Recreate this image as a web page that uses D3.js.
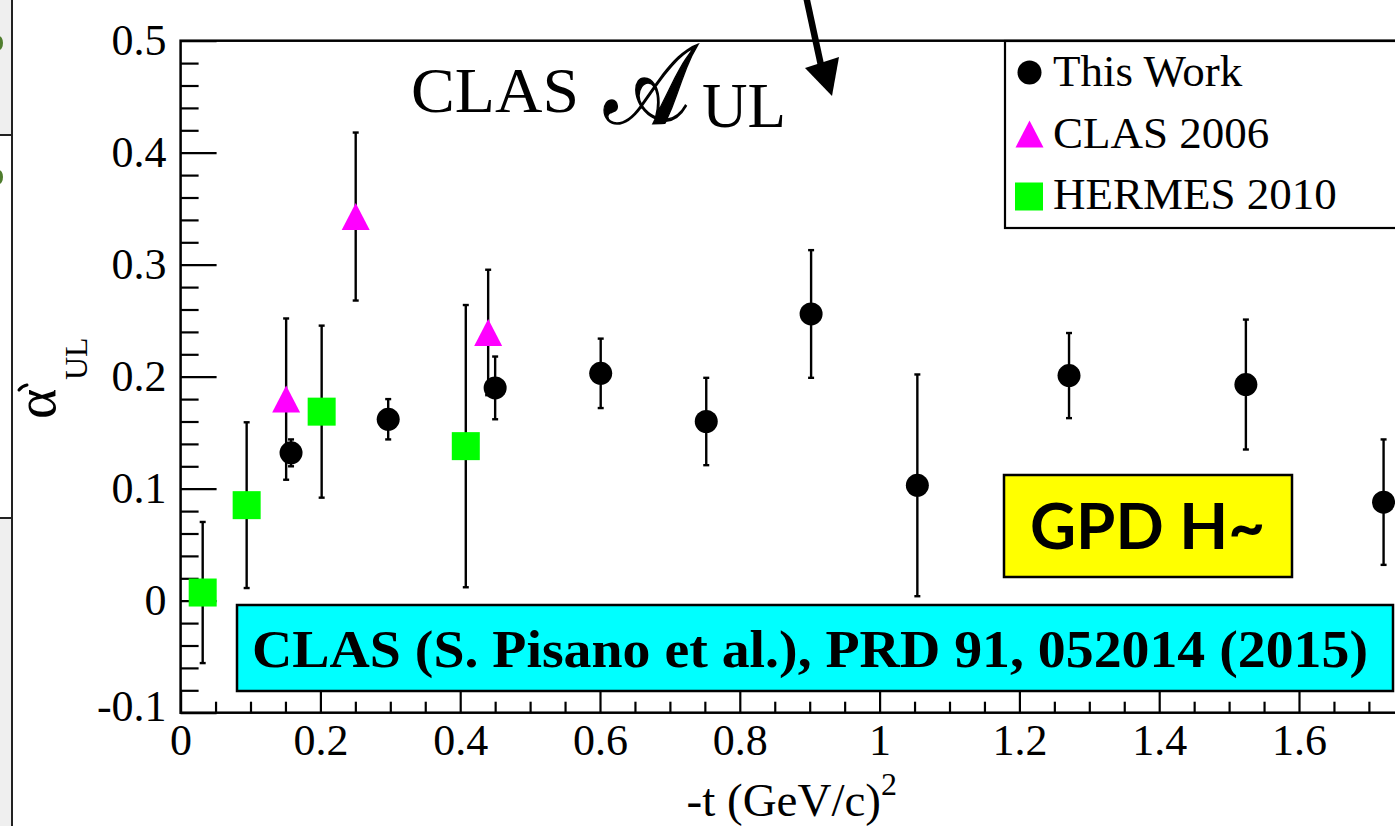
<!DOCTYPE html>
<html>
<head>
<meta charset="utf-8">
<script src="https://cdn.jsdelivr.net/npm/d3@7"></script>
<style>
  html, body { margin: 0; padding: 0; background: #ffffff; }
  svg { display: block; }
</style>
</head>
<body>
<svg id="chart" width="1395" height="826"></svg>
<script>
// ---- data: longitudinal target-spin asymmetry vs -t ----
const thisWorkT   = [0.158, 0.297, 0.450, 0.601, 0.752, 0.902, 1.054, 1.271, 1.524, 1.721];
const thisWorkA   = [0.132, 0.162, 0.190, 0.203, 0.160, 0.256, 0.103, 0.201, 0.193, 0.088];
const thisWorkErr = [0.012, 0.018, 0.028, 0.031, 0.039, 0.057, 0.099, 0.038, 0.058, 0.056];

const clas2006T   = [0.151, 0.2505, 0.440];
const clas2006A   = [0.180, 0.343, 0.2395];
const clas2006Err = [0.072, 0.075, 0.056];

const hermesT     = [0.0316, 0.0945, 0.2018, 0.408];
const hermesA     = [0.0073, 0.0853, 0.1688, 0.138];
const hermesErr   = [0.063, 0.074, 0.0768, 0.126];

const xTickValues = [0, 0.2, 0.4, 0.6, 0.8, 1.0, 1.2, 1.4, 1.6];
const xTickLabels = ["0", "0.2", "0.4", "0.6", "0.8", "1", "1.2", "1.4", "1.6"];
const yTickValues = [-0.1, 0, 0.1, 0.2, 0.3, 0.4, 0.5];
const yTickLabels = ["-0.1", "0", "0.1", "0.2", "0.3", "0.4", "0.5"];

const legendLabels = ["This Work", "CLAS 2006", "HERMES 2010"];

// ---- layout ----
const svg = d3.select("#chart");
const serif = "'Liberation Serif', 'Times New Roman', serif";

const x = d3.scaleLinear().domain([0, 1.8]).range([180.6, 1438.8]);
const y = d3.scaleLinear().domain([-0.1, 0.5]).range([712.7, 40.7]);

// neighbouring panel edge on the far left
svg.append("rect").attr("x", 0).attr("y", 0).attr("width", 12).attr("height", 135).attr("fill", "#efefef");
svg.append("rect").attr("x", 0).attr("y", 518).attr("width", 12).attr("height", 308).attr("fill", "#efefef");
svg.append("line").attr("x1", 12).attr("x2", 12).attr("y1", 0).attr("y2", 826).attr("stroke", "#222").attr("stroke-width", 2);
svg.append("line").attr("x1", 0).attr("x2", 12).attr("y1", 135).attr("y2", 135).attr("stroke", "#222").attr("stroke-width", 2);
svg.append("line").attr("x1", 0).attr("x2", 12).attr("y1", 518).attr("y2", 518).attr("stroke", "#222").attr("stroke-width", 2);
svg.append("ellipse").attr("cx", -1).attr("cy", 43).attr("rx", 4).attr("ry", 7).attr("fill", "#4f7d2e");
svg.append("ellipse").attr("cx", -1).attr("cy", 177).attr("rx", 4).attr("ry", 7).attr("fill", "#4f7d2e");

// ---- frame ----
svg.append("rect")
  .attr("x", x(0)).attr("y", y(0.5))
  .attr("width", x(1.8) - x(0)).attr("height", y(-0.1) - y(0.5))
  .attr("fill", "none").attr("stroke", "#000").attr("stroke-width", 2.5);

// ---- axes ----
const yMinor = d3.range(-0.1, 0.5001, 0.02).filter(v => Math.abs(v * 10 - Math.round(v * 10)) > 1e-6);
const xMinor = d3.range(0, 1.8001, 0.05).filter(v => Math.abs(v * 5 - Math.round(v * 5)) > 1e-6);

function styleAxis(g) {
  g.select(".domain").remove();
  g.selectAll(".tick line").attr("stroke", "#000").attr("stroke-width", 2.2);
  g.selectAll(".tick text").attr("fill", "#000").style("font-family", serif).style("font-size", "44px");
}

const yAxisG = svg.append("g").attr("transform", `translate(${x(0)},0)`)
  .call(d3.axisLeft(y).tickValues(yTickValues)
    .tickFormat((d, i) => yTickLabels[i]).tickSize(-36).tickPadding(14))
  .call(styleAxis);
yAxisG.selectAll(".tick text").filter(d => d < 0).attr("y", -6);

svg.append("g").attr("transform", `translate(${x(0)},0)`)
  .call(d3.axisLeft(y).tickValues(yMinor).tickFormat("").tickSize(-18))
  .call(styleAxis);

svg.append("g").attr("transform", `translate(0,${y(-0.1)})`)
  .call(d3.axisBottom(x).tickValues(xTickValues)
    .tickFormat((d, i) => xTickLabels[i]).tickSize(-21).tickPadding(11))
  .call(styleAxis);

svg.append("g").attr("transform", `translate(0,${y(-0.1)})`)
  .call(d3.axisBottom(x).tickValues(xMinor).tickFormat("").tickSize(-11))
  .call(styleAxis);

// ---- axis titles ----
const xt = svg.append("text")
  .attr("x", 897).attr("y", 816).attr("text-anchor", "end")
  .style("font-family", serif).style("font-size", "47px").attr("fill", "#000");
xt.append("tspan").text("-t (GeV/c)");
xt.append("tspan").attr("dy", -21).style("font-size", "32px").text("2");

const yt = svg.append("g").attr("transform", "translate(55,419) rotate(-90)");
yt.append("text").attr("x", 0).attr("y", 0)
  .style("font-family", serif).style("font-size", "58px").attr("fill", "#000").text("α");
yt.append("path").attr("d", "M29,-36 Q33,-33 34,-28").attr("fill", "none")
  .attr("stroke", "#000").attr("stroke-width", 3).attr("stroke-linecap", "round");
yt.append("text").attr("x", 39).attr("y", 32)
  .style("font-family", serif).style("font-size", "32px").attr("fill", "#000").text("UL");

// ---- title ----
svg.append("text").attr("x", 411).attr("y", 112)
  .attr("textLength", 168).attr("lengthAdjust", "spacingAndGlyphs")
  .style("font-family", serif).style("font-size", "63px").attr("fill", "#000").text("CLAS");
svg.append("text").attr("x", 604).attr("y", 123)
  .attr("textLength", 86).attr("lengthAdjust", "spacingAndGlyphs")
  .style("font-family", "'DejaVu Serif', 'DejaVu Sans', serif").style("font-size", "112px")
  .attr("fill", "#000").attr("stroke", "#000").attr("stroke-width", 1.6).text("𝒜");
svg.append("text").attr("x", 702).attr("y", 127)
  .attr("textLength", 84).attr("lengthAdjust", "spacingAndGlyphs")
  .style("font-family", serif).style("font-size", "63px").attr("fill", "#000").text("UL");

// arrow pointing down into the plot
svg.append("line").attr("x1", 806).attr("y1", -4).attr("x2", 822).attr("y2", 70)
  .attr("stroke", "#000").attr("stroke-width", 6.5);
svg.append("path").attr("d", "M805,68 L839,57 L832,96 Z").attr("fill", "#000");

// ---- data points ----
function errorBars(ts, vs, es) {
  const g = svg.append("g").attr("stroke", "#000").attr("stroke-width", 2.4);
  ts.forEach((t, i) => {
    const cx = x(t), top = y(vs[i] + es[i]), bot = y(vs[i] - es[i]);
    g.append("line").attr("x1", cx).attr("x2", cx).attr("y1", top).attr("y2", bot);
    g.append("line").attr("x1", cx - 3).attr("x2", cx + 3).attr("y1", top).attr("y2", top);
    g.append("line").attr("x1", cx - 3).attr("x2", cx + 3).attr("y1", bot).attr("y2", bot);
  });
}
const triPath = (cx, cy) => `M${cx},${cy - 13.5} L${cx + 14},${cy + 13.5} L${cx - 14},${cy + 13.5} Z`;

// HERMES 2010
errorBars(hermesT, hermesA, hermesErr);
svg.append("g").selectAll("rect").data(hermesT).join("rect")
  .attr("x", d => x(d) - 14).attr("y", (d, i) => y(hermesA[i]) - 14)
  .attr("width", 28).attr("height", 28).attr("fill", "#00ff00");

// CLAS 2006
errorBars(clas2006T, clas2006A, clas2006Err);
svg.append("g").selectAll("path").data(clas2006T).join("path")
  .attr("d", (d, i) => triPath(x(d), y(clas2006A[i]))).attr("fill", "#ff00ff");

// This work
errorBars(thisWorkT, thisWorkA, thisWorkErr);
svg.append("g").selectAll("circle").data(thisWorkT).join("circle")
  .attr("cx", d => x(d)).attr("cy", (d, i) => y(thisWorkA[i])).attr("r", 11.5).attr("fill", "#000");

// ---- legend ----
svg.append("rect").attr("x", 1005).attr("y", 41).attr("width", 420).attr("height", 187)
  .attr("fill", "#fff").attr("stroke", "#000").attr("stroke-width", 2.2);
svg.append("circle").attr("cx", 1029.5).attr("cy", 72.5).attr("r", 12).attr("fill", "#000");
svg.append("path").attr("d", triPath(1029.5, 134)).attr("fill", "#ff00ff");
svg.append("rect").attr("x", 1015).attr("y", 182.5).attr("width", 28).attr("height", 28).attr("fill", "#00ff00");
const legendBase = [86, 148, 209];
svg.append("g").selectAll("text").data(legendLabels).join("text")
  .attr("x", 1053).attr("y", (d, i) => legendBase[i])
  .style("font-family", serif).style("font-size", "45px").attr("fill", "#000")
  .text(d => d);

// ---- annotation boxes ----
svg.append("rect").attr("x", 1004).attr("y", 475).attr("width", 288).attr("height", 102)
  .attr("fill", "#ffff00").attr("stroke", "#000").attr("stroke-width", 2.5);
svg.append("text").attr("x", 1030).attr("y", 549)
  .attr("textLength", 235).attr("lengthAdjust", "spacingAndGlyphs")
  .style("font-family", "Lato, 'Open Sans', sans-serif").style("font-weight", "bold")
  .style("font-size", "64px").attr("fill", "#000").text("GPD H~");

svg.append("rect").attr("x", 237).attr("y", 605).attr("width", 1156).attr("height", 86)
  .attr("fill", "#00ffff").attr("stroke", "#000").attr("stroke-width", 2.5);
svg.append("text").attr("x", 252).attr("y", 667)
  .attr("textLength", 1116).attr("lengthAdjust", "spacingAndGlyphs")
  .style("font-family", serif).style("font-weight", "bold")
  .style("font-size", "52px").attr("fill", "#000")
  .text("CLAS (S. Pisano et al.), PRD 91, 052014 (2015)");
</script>
</body>
</html>
